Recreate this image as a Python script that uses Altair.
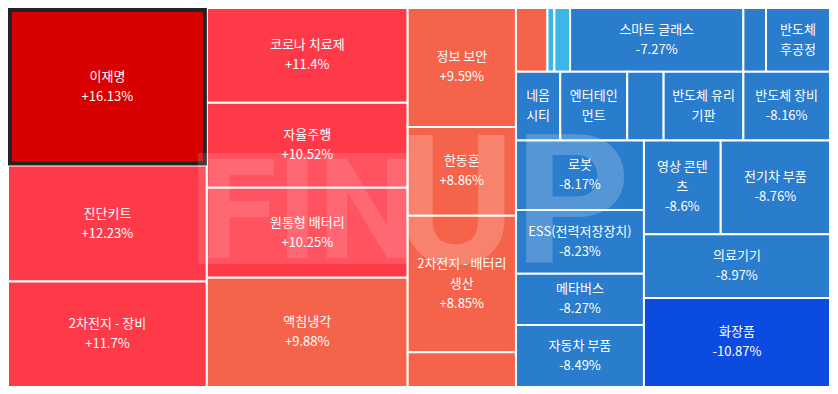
import altair as alt
import pandas as pd

# ---- data ----
names = ["이재명", "진단키트", "2차전지 - 장비",
         "코로나 치료제", "자율주행", "원통형 배터리", "액침냉각",
         "정보 보안", "한동훈", "2차전지 - 배터리\n생산", "",
         "", "", "", "스마트 글래스", "", "반도체\n후공정",
         "네옴\n시티", "엔터테인\n먼트", "", "반도체 유리\n기판", "반도체 장비",
         "로봇", "ESS(전력저장장치)", "메타버스", "자동차 부품",
         "영상 콘텐\n츠", "전기차 부품", "의료기기", "화장품"]
changes = [16.13, 12.23, 11.7,
           11.4, 10.52, 10.25, 9.88,
           9.59, 8.86, 8.85, 8.6,
           8.3, -6.2, -6.9, -7.27, -7.4, -7.6,
           -7.7, -7.8, -7.9, -8.0, -8.16,
           -8.17, -8.23, -8.27, -8.49,
           -8.6, -8.76, -8.97, -10.87]
weights = [32926, 24240, 22018,
           19992, 17952, 18972, 23052,
           13530, 10120, 15510, 3960,
           2112, 462, 1056, 11616, 1518, 4290,
           3195, 4828, 2627, 5751, 6248,
           9360, 8580, 6890, 8320,
           7566, 10767, 12474, 17388]
groups = (["C1"] * 3 + ["C2"] * 4 + ["C3"] * 4 + ["R/R1"] * 6 + ["R/R2"] * 5
          + ["R/R3/R3a"] * 4 + ["R/R3/R3b/R3b1"] * 2 + ["R/R3/R3b"] * 2)
selected = "이재명"

# ---- slice-and-dice treemap layout from the weights ----
def build_tree():
    root = {"children": [], "index": {}}
    for i, g in enumerate(groups):
        node = root
        for part in g.split("/"):
            if part not in node["index"]:
                child = {"children": [], "index": {}}
                node["index"][part] = child
                node["children"].append(child)
            node = node["index"][part]
        node["children"].append(i)
    return root


def total(node):
    if isinstance(node, int):
        return weights[node]
    return sum(total(c) for c in node["children"])


def layout(node, x0, y0, x1, y1, depth, out):
    if isinstance(node, int):
        out[node] = (x0, y0, x1, y1)
        return
    tot = total(node)
    pos = x0 if depth % 2 == 0 else y0
    for c in node["children"]:
        frac = total(c) / tot
        if depth % 2 == 0:
            w = (x1 - x0) * frac
            layout(c, pos, y0, pos + w, y1, depth + 1, out)
            pos += w
        else:
            h = (y1 - y0) * frac
            layout(c, x0, pos, x1, pos + h, depth + 1, out)
            pos += h


W, H = 835, 392
boxes = {}
layout(build_tree(), 0, 0, W, H, 0, boxes)

LINE = 20
rows = []
for i, n in enumerate(names):
    x0, y0, x1, y1 = boxes[i]
    val = f"{changes[i]:+g}%"
    nl = n.count("\n") + 1
    if n == "":
        label = ""
    elif (nl + 1) * LINE + 12 <= (y1 - y0):
        label = n + "\n" + val
    else:
        label = n
    rows.append(dict(name=n, change=changes[i], x0=x0, x1=x1, y0=y0, y1=y1,
                     cx=(x0 + x1) / 2, cy=(y0 + y1) / 2, label=label,
                     nlines=label.count("\n") + 1))
df = pd.DataFrame(rows)

PW, PH = 822, 378
xs = alt.Scale(domain=[0, W], nice=False, zero=False)
ys = alt.Scale(domain=[0, 391], nice=False, zero=False, reverse=True)

color = alt.Color("change:Q", legend=None, scale=alt.Scale(
    type="threshold", domain=[-10, -7, 0, 10, 15],
    range=["#0c4be0", "#2a7ccc", "#3bb6e6", "#f5634a", "#ff3a48", "#d90000"]))

base = alt.Chart(df)
rects = base.mark_rect(stroke="white", strokeWidth=2).encode(
    x=alt.X("x0:Q", scale=xs, axis=None), x2="x1:Q",
    y=alt.Y("y0:Q", scale=ys, axis=None), y2="y1:Q",
    color=color)

border = base.transform_filter(alt.datum.name == selected).mark_rect(
    fillOpacity=0, stroke="#222222", strokeWidth=4,
    xOffset=2, x2Offset=-2, yOffset=2, y2Offset=-2).encode(
    x=alt.X("x0:Q", scale=xs, axis=None), x2="x1:Q",
    y=alt.Y("y0:Q", scale=ys, axis=None), y2="y1:Q")

# ---- faint "FINUP" logo watermark ----
one = pd.DataFrame({"w": ["FINUP"]})
wm_box = alt.Chart(one).mark_rect(color="white", opacity=0.13).encode(
    x=alt.value(190), x2=alt.value(401), y=alt.value(145), y2=alt.value(256))
wm_fin = alt.Chart(pd.DataFrame({"w": ["FIN"]})).mark_text(
    font="Roboto", fontWeight="bold", fontSize=140, color="white",
    opacity=0.12, align="left", baseline="alphabetic").encode(
    x=alt.value(192), y=alt.value(250), text="w:N")
wm_up = alt.Chart(pd.DataFrame({"w": ["UP"]})).mark_text(
    font="Roboto", fontWeight="bold", fontSize=180, color="white",
    opacity=0.2, align="left", baseline="alphabetic").encode(
    x=alt.value(388), y=alt.value(255), text="w:N")

label_layers = []
for k in sorted(df["nlines"].unique()):
    label_layers.append(
        base.transform_filter(alt.datum.nlines == int(k)).mark_text(
            lineBreak="\n", font="Noto Sans CJK KR", fontSize=13,
            lineHeight=LINE, color="white", align="center", baseline="middle",
            dy=-(int(k) - 1) * LINE / 2).encode(
            x=alt.X("cx:Q", scale=xs, axis=None),
            y=alt.Y("cy:Q", scale=ys, axis=None),
            text="label:N"))

chart = alt.layer(rects, border, wm_box, wm_fin, wm_up, *label_layers).properties(
    width=PW, height=PH, padding=0,
    autosize=alt.AutoSizeParams(type="none"),
    background="white",
).configure_view(stroke=None)

chart.save("out.html", embed_options={"renderer": "svg", "actions": False})
